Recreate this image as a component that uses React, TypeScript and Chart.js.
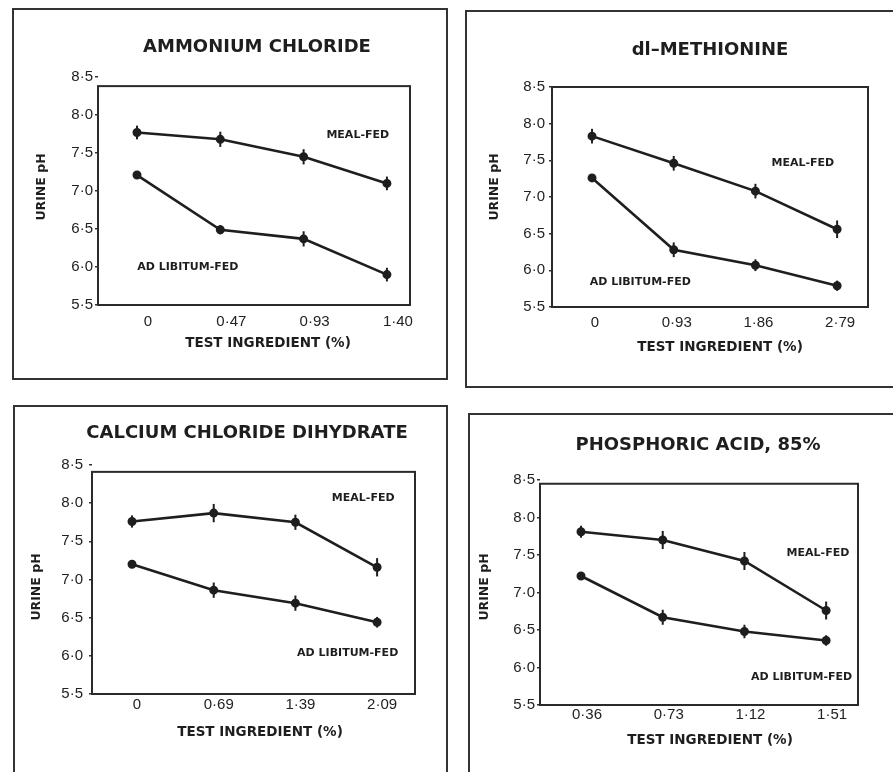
import React, { useEffect, useRef } from "react";
import { Chart, registerables } from "chart.js";

Chart.register(...registerables);

// ---- shared axis data ----
const yTicks = [5.5, 6.0, 6.5, 7.0, 7.5, 8.0, 8.5];
const xIndex = [0, 1, 2, 3];

// ---- AMMONIUM CHLORIDE ----
const ammoniumLabels = ["0", "0·47", "0·93", "1·40"];
const ammoniumMeal = [7.77, 7.68, 7.45, 7.1];
const ammoniumMealErr = [0.09, 0.1, 0.1, 0.09];
const ammoniumAdLib = [7.21, 6.49, 6.37, 5.9];
const ammoniumAdLibErr = [0.04, 0.06, 0.1, 0.09];

// ---- dl-METHIONINE ----
const methionineLabels = ["0", "0·93", "1·86", "2·79"];
const methionineMeal = [7.83, 7.46, 7.08, 6.56];
const methionineMealErr = [0.1, 0.1, 0.1, 0.12];
const methionineAdLib = [7.26, 6.28, 6.07, 5.79];
const methionineAdLibErr = [0.04, 0.1, 0.08, 0.07];

// ---- CALCIUM CHLORIDE DIHYDRATE ----
const calciumLabels = ["0", "0·69", "1·39", "2·09"];
const calciumMeal = [7.76, 7.87, 7.75, 7.16];
const calciumMealErr = [0.08, 0.12, 0.1, 0.12];
const calciumAdLib = [7.2, 6.86, 6.69, 6.44];
const calciumAdLibErr = [0.05, 0.1, 0.1, 0.07];

// ---- PHOSPHORIC ACID, 85% ----
const phosphoricLabels = ["0·36", "0·73", "1·12", "1·51"];
const phosphoricMeal = [7.81, 7.7, 7.42, 6.76];
const phosphoricMealErr = [0.08, 0.12, 0.12, 0.12];
const phosphoricAdLib = [7.22, 6.67, 6.48, 6.36];
const phosphoricAdLibErr = [0.04, 0.1, 0.09, 0.07];

const INK = "#1e1e1e";
const VW = 893;
const VH = 772;

type Pt = { x: number; y: number };
type PanelCfg = {
  title: string;
  xLabels: string[];
  meal: number[];
  mealErr: number[];
  adlib: number[];
  adlibErr: number[];
  box: { x: number; y: number; w: number; h: number };
  plot: { left: number; right: number; top: number; bottom: number };
  xMin: number;
  xMax: number;
  frameTop: number;
  labelOffset: number;
  xTickPad: number;
  yTickPad: number;
  titlePos: Pt;
  xTitlePos: Pt;
  yTitlePos: Pt;
  mealNote: Pt;
  adNote: Pt;
};

const panels: PanelCfg[] = [
  {
    title: "AMMONIUM CHLORIDE",
    xLabels: ammoniumLabels,
    meal: ammoniumMeal,
    mealErr: ammoniumMealErr,
    adlib: ammoniumAdLib,
    adlibErr: ammoniumAdLibErr,
    box: { x: 12, y: 8, w: 436, h: 372 },
    plot: { left: 98, right: 410, top: 77, bottom: 305 },
    xMin: -0.468,
    xMax: 3.277,
    frameTop: 8.38,
    labelOffset: 11,
    xTickPad: 8,
    yTickPad: 2,
    titlePos: { x: 257, y: 47 },
    xTitlePos: { x: 268, y: 343 },
    yTitlePos: { x: 42, y: 187 },
    mealNote: { x: 2.65, y: 7.74 },
    adNote: { x: 0.61, y: 6.0 },
  },
  {
    title: "dl–METHIONINE",
    xLabels: methionineLabels,
    meal: methionineMeal,
    mealErr: methionineMealErr,
    adlib: methionineAdLib,
    adlibErr: methionineAdLibErr,
    box: { x: 465, y: 10, w: 440, h: 378 },
    plot: { left: 552, right: 868, top: 87, bottom: 307 },
    xMin: -0.49,
    xMax: 3.378,
    frameTop: 8.5,
    labelOffset: 3,
    xTickPad: 7,
    yTickPad: 4,
    titlePos: { x: 710, y: 50 },
    xTitlePos: { x: 720, y: 347 },
    yTitlePos: { x: 495, y: 187 },
    mealNote: { x: 2.58, y: 7.46 },
    adNote: { x: 0.59, y: 5.84 },
  },
  {
    title: "CALCIUM CHLORIDE DIHYDRATE",
    xLabels: calciumLabels,
    meal: calciumMeal,
    mealErr: calciumMealErr,
    adlib: calciumAdLib,
    adlibErr: calciumAdLibErr,
    box: { x: 13, y: 405, w: 435, h: 385 },
    plot: { left: 92, right: 415, top: 465, bottom: 694 },
    xMin: -0.49,
    xMax: 3.464,
    frameTop: 8.41,
    labelOffset: 5,
    xTickPad: 2,
    yTickPad: 6,
    titlePos: { x: 247, y: 433 },
    xTitlePos: { x: 260, y: 732 },
    yTitlePos: { x: 37, y: 587 },
    mealNote: { x: 2.83, y: 8.07 },
    adNote: { x: 2.64, y: 6.04 },
  },
  {
    title: "PHOSPHORIC ACID, 85%",
    xLabels: phosphoricLabels,
    meal: phosphoricMeal,
    mealErr: phosphoricMealErr,
    adlib: phosphoricAdLib,
    adlibErr: phosphoricAdLibErr,
    box: { x: 468, y: 413, w: 440, h: 385 },
    plot: { left: 540, right: 858, top: 480, bottom: 705 },
    xMin: -0.502,
    xMax: 3.39,
    frameTop: 8.45,
    labelOffset: 6,
    xTickPad: 1,
    yTickPad: 2,
    titlePos: { x: 698, y: 445 },
    xTitlePos: { x: 710, y: 740 },
    yTitlePos: { x: 485, y: 587 },
    mealNote: { x: 2.9, y: 7.53 },
    adNote: { x: 2.7, y: 5.87 },
  },
];

function fmt(v: number): string {
  return v.toFixed(1).replace(".", "·");
}

function makeDecor(cfg: PanelCfg) {
  return {
    id: "panelDecor",
    afterDatasetsDraw(chart: any) {
      const { ctx, chartArea, scales } = chart;
      const xs = scales.x;
      const ys = scales.y;
      ctx.save();
      ctx.strokeStyle = INK;
      ctx.fillStyle = INK;
      // error bars
      chart.data.datasets.forEach((ds: any, di: number) => {
        const meta = chart.getDatasetMeta(di);
        meta.data.forEach((pt: any, i: number) => {
          const v = ds.data[i].y;
          const e = ds.errors[i];
          ctx.beginPath();
          ctx.lineWidth = 2;
          ctx.moveTo(pt.x, ys.getPixelForValue(v - e));
          ctx.lineTo(pt.x, ys.getPixelForValue(v + e));
          ctx.stroke();
        });
      });
      // frame
      const top = ys.getPixelForValue(cfg.frameTop);
      ctx.lineWidth = 2;
      ctx.strokeStyle = "#2a2a2a";
      ctx.strokeRect(
        chartArea.left,
        top,
        chartArea.right - chartArea.left,
        chartArea.bottom - top
      );
      // notes
      ctx.textAlign = "center";
      ctx.textBaseline = "middle";
      ctx.font = 'bold 11px "DejaVu Sans", sans-serif';
      ctx.fillText(
        "MEAL-FED",
        xs.getPixelForValue(cfg.mealNote.x),
        ys.getPixelForValue(cfg.mealNote.y)
      );
      ctx.fillText(
        "AD LIBITUM-FED",
        xs.getPixelForValue(cfg.adNote.x),
        ys.getPixelForValue(cfg.adNote.y)
      );
      // titles
      const ox = cfg.box.x;
      const oy = cfg.box.y;
      ctx.font = 'bold 18px "DejaVu Sans", sans-serif';
      ctx.fillText(cfg.title, cfg.titlePos.x - ox, cfg.titlePos.y - oy);
      ctx.font = 'bold 13.5px "DejaVu Sans", sans-serif';
      ctx.fillText("TEST INGREDIENT (%)", cfg.xTitlePos.x - ox, cfg.xTitlePos.y - oy);
      ctx.save();
      ctx.translate(cfg.yTitlePos.x - ox, cfg.yTitlePos.y - oy);
      ctx.rotate(-Math.PI / 2);
      ctx.font = 'bold 12.5px "DejaVu Sans", sans-serif';
      ctx.fillText("URINE pH", 0, 0);
      ctx.restore();
      ctx.restore();
    },
  };
}

function Panel({ cfg }: { cfg: PanelCfg }) {
  const ref = useRef<HTMLCanvasElement>(null);
  const cw = Math.min(cfg.box.w, VW - cfg.box.x);
  const ch = Math.min(cfg.box.h, VH - cfg.box.y);

  useEffect(() => {
    const canvas = ref.current;
    if (!canvas) return;
    const padTop = cfg.plot.top - cfg.box.y;
    const padRight = cfg.box.x + cw - cfg.plot.right;
    const yWidth = cfg.plot.left - cfg.box.x;
    const xHeight = cfg.box.y + ch - cfg.plot.bottom;
    const lineDs = (vals: number[], errs: number[]) => ({
      data: xIndex.map((i) => ({ x: i, y: vals[i] })),
      errors: errs,
      borderColor: INK,
      backgroundColor: INK,
      borderWidth: 2.6,
      pointRadius: 3.2,
      pointStyle: "circle",
      pointBackgroundColor: INK,
      pointBorderColor: INK,
      tension: 0,
      clip: false,
    });
    const chart = new Chart(canvas, {
      type: "line",
      data: {
        datasets: [
          { label: "MEAL-FED", ...lineDs(cfg.meal, cfg.mealErr) } as any,
          { label: "AD LIBITUM-FED", ...lineDs(cfg.adlib, cfg.adlibErr) } as any,
        ],
      },
      options: {
        animation: false,
        responsive: false,
        maintainAspectRatio: false,
        events: [],
        layout: { padding: { top: padTop, right: padRight, bottom: 0, left: 0 } },
        plugins: {
          legend: { display: false },
          tooltip: { enabled: false },
          title: { display: false },
        },
        scales: {
          x: {
            type: "linear",
            min: cfg.xMin,
            max: cfg.xMax,
            afterBuildTicks: (s: any) => {
              s.ticks = xIndex.map((v) => ({ value: v }));
            },
            afterFit: (s: any) => {
              s.height = xHeight;
            },
            grid: { display: false, drawTicks: false },
            border: { display: false },
            ticks: {
              padding: cfg.xTickPad,
              labelOffset: cfg.labelOffset,
              maxRotation: 0,
              autoSkip: false,
              color: "#222",
              font: { family: '"Liberation Sans", sans-serif', size: 15 },
              callback: (v: any) => cfg.xLabels[Number(v)] ?? "",
            },
          },
          y: {
            type: "linear",
            min: 5.5,
            max: 8.5,
            afterBuildTicks: (s: any) => {
              s.ticks = yTicks.map((v) => ({ value: v }));
            },
            afterFit: (s: any) => {
              s.width = yWidth;
            },
            grid: {
              display: true,
              drawOnChartArea: false,
              drawTicks: true,
              tickLength: 3,
              color: "#333",
              lineWidth: 1.5,
            },
            border: { display: false },
            ticks: {
              padding: cfg.yTickPad,
              autoSkip: false,
              color: "#222",
              font: { family: '"Liberation Sans", sans-serif', size: 15 },
              callback: (v: any) => fmt(Number(v)),
            },
          },
        },
      },
      plugins: [makeDecor(cfg)],
    } as any);
    return () => chart.destroy();
  }, []);

  return (
    <>
      <div
        style={{
          position: "absolute",
          left: cfg.box.x,
          top: cfg.box.y,
          width: cfg.box.w,
          height: cfg.box.h,
          border: "2px solid #333",
          boxSizing: "border-box",
        }}
      />
      <canvas
        ref={ref}
        width={cw}
        height={ch}
        style={{
          position: "absolute",
          left: cfg.box.x,
          top: cfg.box.y,
          width: cw,
          height: ch,
        }}
      />
    </>
  );
}

export default function App() {
  return (
    <div
      style={{
        position: "absolute",
        left: 0,
        top: 0,
        width: VW,
        height: VH,
        overflow: "hidden",
        background: "#ffffff",
      }}
    >
      {panels.map((p, i) => (
        <Panel key={i} cfg={p} />
      ))}
    </div>
  );
}
